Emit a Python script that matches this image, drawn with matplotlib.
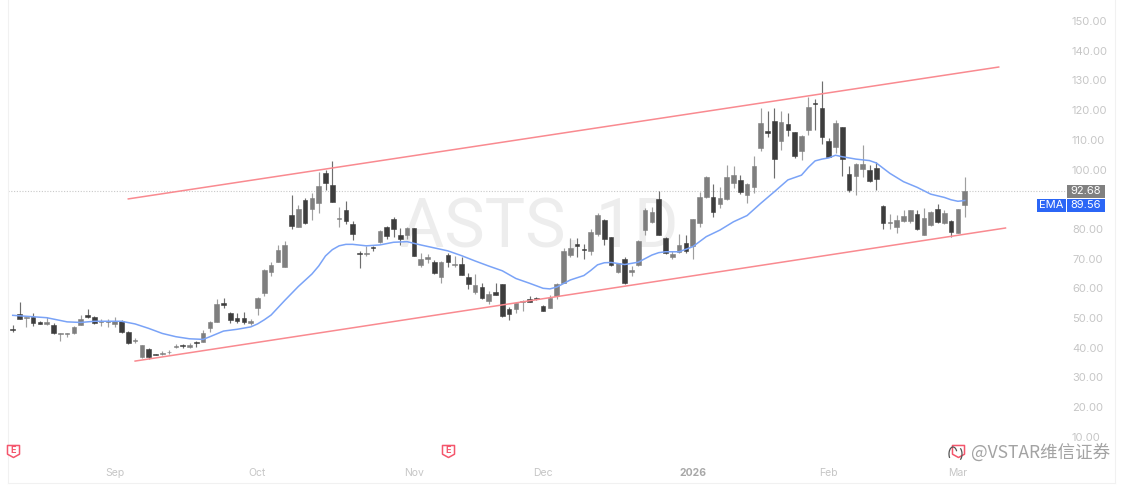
import numpy as np
import matplotlib
matplotlib.use("Agg")
import matplotlib.pyplot as plt
from matplotlib.path import Path
from matplotlib.patches import Arc, Rectangle
from matplotlib.transforms import blended_transform_factory

# daily candles
open_prices = [
    46.2, 51.2, 50.1, 50.2, 48.8, 48.0, 47.8, 44.5, 44.5, 44.8,
    47.8, 51.0, 50.5, 48.7, 48.7, 48.1, 49.1, 45.4, 42.4, 36.8,
    39.6, 37.9, 37.9, 38.6, 40.2, 40.8, 40.4, 41.9, 42.0, 46.5,
    48.8, 55.0, 51.6, 50.1, 49.9, 48.4, 53.5, 58.3, 65.5, 69.0,
    67.3, 84.7, 80.6, 89.7, 86.6, 88.6, 98.7, 94.8, 83.5, 86.3,
    81.6, 72.0, 71.6, 73.9, 75.7, 80.6, 83.4, 78.1, 78.0, 80.2,
    67.7, 69.9, 68.8, 63.9, 71.2, 68.0, 68.1, 63.9, 58.6, 60.5,
    55.8, 58.8, 61.4, 53.0, 53.0, 55.5, 56.3, 56.7, 54.2, 53.3,
    57.4, 61.9, 71.2, 75.0, 73.3, 72.7, 78.4, 82.9, 77.2, 65.5,
    70.0, 65.4, 67.8, 79.7, 82.2, 90.0, 76.9, 70.7, 72.3, 75.1,
    74.4, 81.9, 90.6, 90.9, 88.4, 90.2, 95.3, 96.5, 91.3, 94.2,
    107.1, 113.0, 116.4, 109.6, 115.3, 112.5, 106.2, 113.3, 122.5, 120.6,
    109.7, 107.7, 114.2, 98.5, 97.8, 100.3, 99.8, 100.6, 87.7, 82.1,
    80.7, 82.8, 82.8, 85.0, 78.1, 81.3, 86.8, 81.9, 82.7, 78.7, 88.0,
]
close_prices = [
    45.9, 49.7, 50.5, 48.2, 48.1, 48.5, 44.8, 44.8, 44.8, 47.1,
    49.8, 50.3, 48.2, 48.9, 48.9, 48.9, 45.2, 41.7, 42.6, 40.8,
    36.8, 37.5, 38.2, 38.7, 40.7, 40.5, 40.9, 41.6, 45.0, 48.8,
    54.7, 54.3, 49.3, 49.0, 48.8, 49.0, 56.9, 66.2, 67.8, 72.9,
    74.6, 81.0, 86.7, 81.9, 90.4, 94.3, 95.6, 89.2, 83.7, 82.6,
    78.3, 71.4, 71.8, 73.6, 79.3, 77.6, 79.9, 76.5, 80.2, 71.0,
    70.0, 70.5, 65.1, 69.0, 68.7, 68.2, 64.5, 61.5, 61.1, 56.7,
    58.1, 57.9, 50.7, 51.3, 55.0, 55.8, 55.5, 56.3, 52.5, 56.8,
    61.5, 72.6, 73.7, 74.1, 72.9, 79.0, 84.8, 76.5, 67.8, 68.4,
    61.7, 66.0, 76.0, 86.5, 85.6, 78.0, 71.8, 71.5, 74.6, 72.4,
    83.3, 90.9, 97.5, 85.6, 90.3, 97.6, 98.2, 92.4, 95.1, 101.2,
    115.5, 112.4, 103.4, 116.1, 113.3, 104.5, 111.2, 121.2, 121.9, 111.1,
    104.3, 115.5, 103.4, 93.1, 101.7, 102.0, 96.1, 96.9, 82.1, 82.3,
    82.9, 84.3, 86.2, 80.0, 83.7, 85.8, 82.3, 85.5, 79.0, 86.8, 92.68,
]
high_prices = [
    47.6, 55.5, 50.5, 51.8, 48.9, 50.5, 48.2, 45.1, 45.1, 47.3,
    51.1, 53.0, 50.7, 49.6, 49.6, 50.5, 49.3, 45.7, 43.4, 40.8,
    39.8, 38.0, 38.8, 39.3, 41.1, 41.4, 41.7, 42.1, 46.0, 49.1,
    56.3, 56.6, 51.9, 51.6, 52.1, 49.6, 57.2, 66.5, 68.7, 74.6,
    76.0, 91.4, 88.1, 90.5, 92.0, 99.3, 99.9, 102.7, 87.3, 89.5,
    82.5, 72.6, 74.3, 74.3, 79.7, 81.0, 83.9, 80.2, 80.8, 80.2,
    71.8, 71.6, 69.6, 69.3, 72.0, 70.9, 70.7, 65.1, 64.7, 61.9,
    59.2, 61.7, 61.4, 53.8, 55.2, 55.9, 57.3, 57.2, 54.4, 57.7,
    61.7, 73.5, 76.9, 77.1, 74.8, 80.1, 85.3, 83.3, 77.2, 68.4,
    70.5, 67.5, 76.3, 87.1, 87.5, 92.9, 77.2, 72.4, 78.2, 78.0,
    83.3, 92.5, 97.8, 95.2, 94.0, 101.5, 101.2, 98.2, 95.3, 104.5,
    120.6, 119.8, 120.8, 119.8, 118.9, 112.7, 111.6, 124.3, 123.6, 129.8,
    110.5, 116.7, 114.4, 101.2, 102.1, 108.2, 101.5, 102.6, 87.9, 84.9,
    84.7, 86.4, 86.4, 86.4, 86.9, 86.1, 88.4, 86.4, 83.0, 86.8, 97.4,
]
low_prices = [
    45.4, 49.7, 47.1, 47.3, 48.0, 47.5, 44.7, 42.2, 43.7, 44.6,
    47.5, 50.1, 48.0, 47.3, 46.9, 47.1, 45.1, 41.3, 41.7, 36.5,
    36.1, 37.4, 37.4, 37.9, 39.9, 40.0, 39.9, 40.2, 41.9, 45.4,
    48.7, 53.3, 48.2, 48.2, 48.1, 47.6, 50.9, 57.4, 64.2, 68.7,
    67.1, 79.9, 80.5, 81.7, 83.0, 85.3, 93.1, 89.0, 80.8, 81.7,
    76.3, 66.8, 70.9, 72.6, 75.2, 76.7, 77.2, 74.5, 76.5, 70.9,
    67.3, 68.4, 64.8, 61.9, 67.1, 67.1, 64.4, 59.9, 58.0, 56.3,
    54.7, 57.7, 50.5, 49.4, 51.8, 52.3, 55.4, 55.9, 52.4, 53.2,
    56.3, 61.7, 70.5, 70.7, 69.9, 71.1, 77.6, 74.7, 67.5, 65.3,
    61.5, 64.0, 67.5, 78.0, 81.9, 77.9, 71.4, 69.8, 72.0, 71.9,
    69.7, 80.7, 90.3, 83.9, 86.9, 89.7, 93.7, 91.8, 88.6, 92.2,
    106.3, 111.1, 97.0, 106.6, 111.3, 103.8, 103.2, 111.6, 113.3, 108.6,
    104.1, 105.4, 97.8, 92.5, 91.4, 97.6, 95.7, 93.1, 79.9, 80.1,
    78.7, 82.3, 82.1, 79.6, 77.9, 81.1, 82.1, 81.6, 77.4, 78.5, 84.1,
]

ema_days = [0, 5, 8, 10, 12, 16, 18, 20, 22, 24, 26, 28, 29, 31, 33, 35, 36, 37,
            38, 40, 42, 44, 45, 46, 47, 48, 49, 50, 52, 54, 56, 58, 60, 62, 64, 66, 68,
            70, 72, 74, 76, 78, 79, 80, 82, 84, 85, 86, 87, 88, 90, 92, 94, 95, 96, 98,
            100, 102, 104, 106, 108, 110, 112, 114, 116, 117, 118, 119, 120, 121,
            122, 124, 126, 127, 129, 131, 133, 135, 137, 138, 139, 140]
ema_values = [50.9, 50.1, 48.7, 48.5, 48.9, 48.9, 48.0, 46.5, 44.8, 43.7, 43.0,
              42.8, 43.7, 45.6, 46.2, 47.0, 48.0, 49.4, 51.0, 55.9, 60.6, 64.8, 67.5, 70.9,
              73.0, 74.3, 74.8, 74.8, 74.3, 74.6, 75.5, 75.7, 74.6, 73.6, 72.6, 71.0, 69.2,
              67.5, 65.9, 63.3, 61.7, 60.0, 59.8, 60.4, 62.8, 64.3, 66.0, 67.9, 68.6, 68.7,
              68.0, 68.8, 71.2, 72.0, 72.3, 72.3, 74.0, 77.4, 79.6, 82.4, 84.5, 88.6,
              92.5, 96.5, 98.1, 100.7, 102.9, 103.5, 103.9, 104.8, 104.3, 103.5, 103.0,
              102.2, 98.7, 95.9, 94.0, 91.7, 90.6, 89.8, 89.3, 89.56]

channel_upper_days = [17, 145]
channel_upper_values = [90.1, 134.5]
channel_lower_days = [18, 146]
channel_lower_values = [35.5, 80.3]

# 90.00 sits under the price tags in the reference, so it is not listed
price_ticks = [150, 140, 130, 120, 110, 100, 80, 70, 60, 50, 40, 30, 20, 10]
month_days = [15, 36, 59, 78, 100, 120, 139]
month_labels = ["Sep", "Oct", "Nov", "Dec", "2026", "Feb", "Mar"]
earnings_days = [0, 64, 139]
last_price = 92.68
last_ema = 89.56

W, H = 1123, 487
UP = "#7f7f7f"
DOWN = "#3d3d3d"
RED = "#f98a90"
BLUE = "#7aa3f7"
LABEL = "#c6c6c6"

plt.rcParams["font.family"] = ["Inter", "DejaVu Sans"]


def shield():
    verts = [(-1, 1), (1, 1), (1, -0.45), (0, -1), (-1, -0.45), (-1, 1)]
    return Path(verts, closed=True)


def main():
    fig = plt.figure(figsize=(W / 100, H / 100), dpi=100)
    left, right, bottom, top = 8, 1115, 483, 0
    ax = fig.add_axes([left / W, 1 - bottom / H, (right - left) / W, (bottom - top) / H])

    # 6.8 px per trading day, first candle at x=12.7; 2.97 px per dollar
    ax.set_xlim((left - 12.7) / 6.8, (right - 12.7) / 6.8)
    ax.set_ylim(150 - (bottom - 21) / 2.97, 150 + 21 / 2.97)

    ax.spines["top"].set_visible(False)
    for side in ["left", "right", "bottom"]:
        ax.spines[side].set_color("#f1f1f1")
        ax.spines[side].set_linewidth(0.8)

    days = np.arange(len(open_prices))
    opens = np.array(open_prices)
    closes = np.array(close_prices)
    colors = [UP if c >= o else DOWN for o, c in zip(opens, closes)]

    ax.text(77.5, 80.5, "ASTS, 1D", color="#ededed", fontsize=49, ha="center",
            va="center", family="Roboto", zorder=1)
    ax.axhline(last_price, xmax=(1065 - left) / (right - left), color="#c9c9c9",
               lw=0.8, ls=(0, (1, 1.5)), zorder=1)

    ax.vlines(days, low_prices, high_prices, colors=colors, lw=0.85, alpha=0.75, zorder=2)
    ax.bar(days, np.abs(closes - opens), bottom=np.minimum(opens, closes), width=0.68,
           color=colors, edgecolor=colors, linewidth=0.4, zorder=3)

    ax.plot(channel_upper_days, channel_upper_values, color=RED, lw=1.1, zorder=4)
    ax.plot(channel_lower_days, channel_lower_values, color=RED, lw=1.1, zorder=4)
    ax.plot(ema_days, ema_values, color=BLUE, lw=1.1, zorder=5)

    ax.yaxis.tick_right()
    ax.set_yticks(price_ticks, [f"{v:.2f}" for v in price_ticks])
    ax.tick_params(axis="y", length=0, pad=-(right - 1072) * 0.72, labelsize=8, labelcolor=LABEL)
    ax.set_xticks(month_days, month_labels)
    ax.tick_params(axis="x", length=0, pad=-(bottom - 468) * 0.72, labelsize=7.5, labelcolor=LABEL)
    ax.get_xticklabels()[4].set_fontweight("bold")
    ax.get_xticklabels()[4].set_color("#a8a8a8")

    # price tags on the right
    tr = blended_transform_factory(ax.transAxes, ax.transData)
    to_ax = lambda px: (px - left) / (right - left)
    ema_tag_y = 87.9  # tag is pushed down so it clears the price tag
    for x0, x1, yc, text, fc in [
        (1067, 1105, last_price, f"{last_price:.2f}", "#808080"),
        (1037, 1066, ema_tag_y, "EMA", "#2b66f6"),
        (1066.5, 1105, ema_tag_y, f"{last_ema:.2f}", "#2b66f6"),
    ]:
        ax.add_patch(Rectangle((to_ax(x0), yc - 2.15), to_ax(x1) - to_ax(x0), 4.3,
                               transform=tr, fc=fc, ec="none", zorder=6))
        ax.text(to_ax((x0 + x1) / 2), yc, text, transform=tr, color="white", fontsize=8,
                ha="center", va="center", zorder=7)

    # earnings flags
    flag_y = [5.2] * len(earnings_days)
    ax.scatter(earnings_days, flag_y, marker=shield(), s=75, facecolor="white",
               edgecolor="#f4566c", linewidth=1.1, zorder=6, clip_on=False)
    for d in earnings_days[:2]:
        ax.text(d, 5.4, "E", color="#f4566c", fontsize=6.5, fontweight="bold",
                ha="center", va="center", zorder=7)

    # source watermark, bottom right
    fig.text(1110 / W, 1 - 453 / H, "@VSTAR维信证券", color="#a3a3a3", fontsize=12.6,
             ha="right", va="center", family=["Noto Sans CJK SC", "DejaVu Sans"], zorder=8)
    for cx, theta1, theta2 in [(953, 60, 250), (958, -80, 80)]:
        fig.add_artist(Arc((cx / W, 1 - 454 / H), 8 / W, 14 / H, theta1=theta1, theta2=theta2,
                           color="#555555", lw=0.9, transform=fig.transFigure))

    fig.savefig("out.png", dpi=100, facecolor="white")


if __name__ == "__main__":
    main()
